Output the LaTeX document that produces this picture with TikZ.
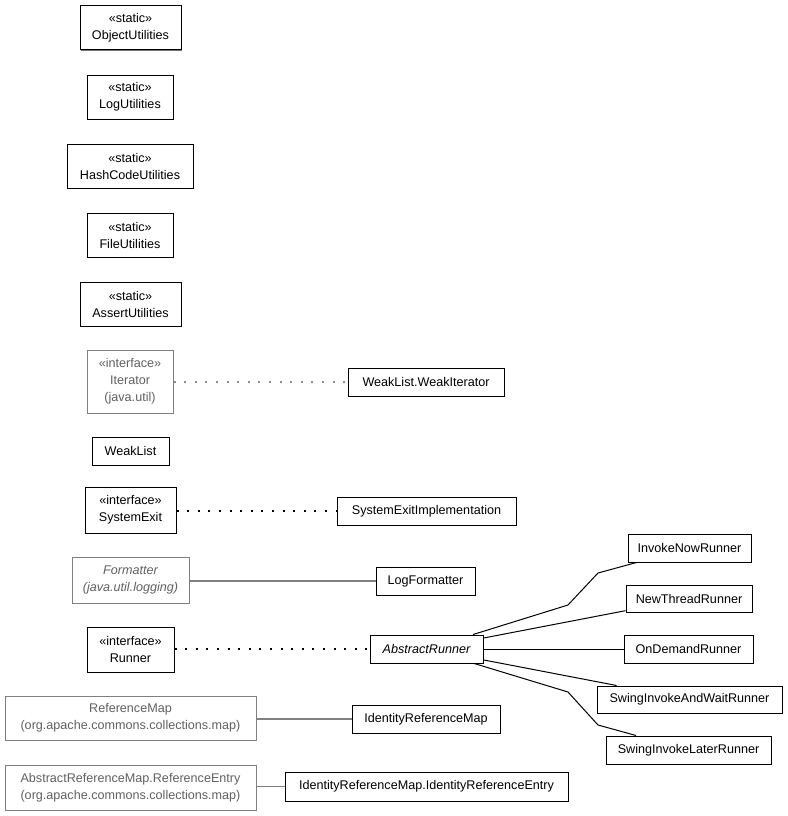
\documentclass[tikz,border=0pt]{standalone}
\usepackage{fontspec}
\setmainfont{Liberation Sans}
\usetikzlibrary{shadows}
\begin{document}
\begin{tikzpicture}[x=1pt,y=-1pt,
  cls/.style={draw=black, line width=1pt, fill=white, inner sep=0pt, align=center,
    font=\fontsize{12.6}{17}\selectfont,
    drop shadow={shadow xshift=1pt, shadow yshift=-1pt, fill=black!55, opacity=1}},
  ext/.style={cls, draw=black!50, text=black!62,
    drop shadow={shadow xshift=1pt, shadow yshift=-1pt, fill=black!30, opacity=1}},
  dep/.style={line width=2pt, dash pattern=on 2pt off 8.6pt},
  depg/.style={dep, draw=black!45, line width=2pt},
  assoc/.style={line width=1pt, draw=black},
  assocg/.style={line width=1.6pt, draw=black!50}]
\useasboundingbox (0,0) rectangle (787,816);
\fill[white] (0,0) rectangle (787,816);

\node[cls, minimum width=101, minimum height=44] (ou) at (130.5,28) {«static»\\ObjectUtilities};
\node[cls, minimum width=86, minimum height=44] (lu) at (130,97) {«static»\\LogUtilities};
\node[cls, minimum width=126, minimum height=44] (hu) at (130,166) {«static»\\HashCodeUtilities};
\node[cls, minimum width=86, minimum height=44] (fu) at (130,235) {«static»\\FileUtilities};
\node[cls, minimum width=101, minimum height=44] (au) at (130.5,304) {«static»\\AssertUtilities};

\node[ext, minimum width=86, minimum height=63] (it) at (130,381.5) {«interface»\\Iterator\\(java.util)};
\node[cls, minimum width=156, minimum height=28] (wi) at (426,382) {WeakList.WeakIterator};
\node[cls, minimum width=77, minimum height=28] (wl) at (130.5,451) {WeakList};

\node[cls, minimum width=91, minimum height=46] (se) at (130.5,510) {«interface»\\SystemExit};
\node[cls, minimum width=179, minimum height=28] (sei) at (426.5,511) {SystemExitImplementation};

\node[ext, minimum width=117, minimum height=46] (fm) at (130.5,580) {\itshape Formatter\\\itshape (java.util.logging)};
\node[cls, minimum width=99, minimum height=28] (lf) at (425.5,581) {LogFormatter};

\node[cls, minimum width=87, minimum height=45] (rn) at (130.5,649.5) {«interface»\\Runner};
\node[cls, minimum width=113, minimum height=28] (ar) at (426.5,649) {\itshape AbstractRunner};

\node[cls, minimum width=123, minimum height=28] (inr) at (689.5,548) {InvokeNowRunner};
\node[cls, minimum width=126, minimum height=27] (ntr) at (689,598.5) {NewThreadRunner};
\node[cls, minimum width=129, minimum height=28] (odr) at (688.5,649) {OnDemandRunner};
\node[cls, minimum width=185, minimum height=27] (siaw) at (689.5,699.5) {SwingInvokeAndWaitRunner};
\node[cls, minimum width=165, minimum height=28] (sil) at (688.5,750) {SwingInvokeLaterRunner};

\node[ext, minimum width=251, minimum height=44] (rm) at (130.5,718) {ReferenceMap\\(org.apache.commons.collections.map)};
\node[cls, minimum width=148, minimum height=28] (irm) at (426,719) {IdentityReferenceMap};
\node[ext, minimum width=251, minimum height=45] (re) at (130.5,787.5) {AbstractReferenceMap.ReferenceEntry\\(org.apache.commons.collections.map)};
\node[cls, minimum width=283, minimum height=29] (ire) at (426.5,786.5) {IdentityReferenceMap.IdentityReferenceEntry};

\draw[depg] (it.east |- wi) -- (wi.west);
\draw[dep] (se.east |- sei) -- (sei.west);
\draw[assocg] (fm.east |- lf) -- (lf.west);
\draw[dep] (rn.east |- ar) -- (ar.west);
\draw[assocg] (rm.east |- irm) -- (irm.west);
\draw[assocg] (re.east |- ire) -- (ire.west);

\coordinate (b1) at (568,605);
\coordinate (b2) at (598,573);
\coordinate (b3) at (568,692);
\coordinate (b4) at (598,725);
\draw[assoc] (ar) -- (b1) -- (b2) -- (inr);
\draw[assoc] (ar) -- (ntr);
\draw[assoc] (ar) -- (odr);
\draw[assoc] (ar) -- (siaw);
\draw[assoc] (ar) -- (b3) -- (b4) -- (sil);
\end{tikzpicture}
\end{document}
